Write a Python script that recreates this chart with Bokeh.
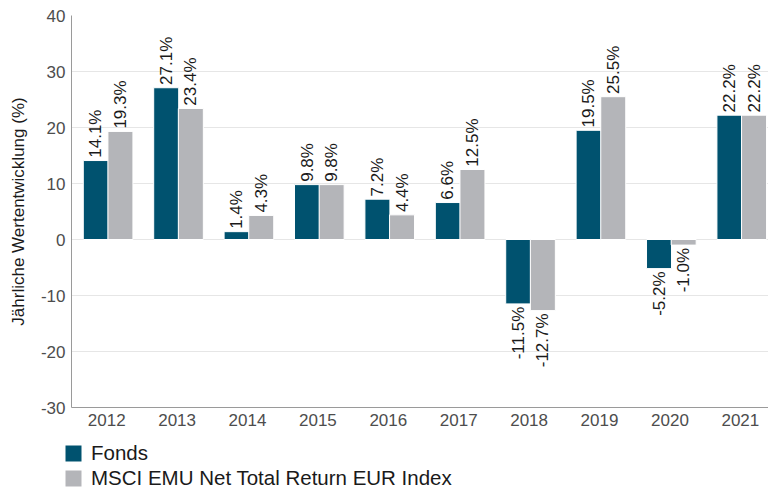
from bokeh.plotting import figure
from bokeh.models import ColumnDataSource, Range1d, FixedTicker, Legend, LegendItem
from bokeh.layouts import column
from bokeh.transform import dodge
from bokeh.embed import file_html
from bokeh.resources import INLINE
import math

years = ["2012", "2013", "2014", "2015", "2016", "2017", "2018", "2019", "2020", "2021"]
fonds = [14.1, 27.1, 1.4, 9.8, 7.2, 6.6, -11.5, 19.5, -5.2, 22.2]
index = [19.3, 23.4, 4.3, 9.8, 4.4, 12.5, -12.7, 25.5, -1.0, 22.2]
y_ticks = [-30, -20, -10, 0, 10, 20, 30, 40]
series_names = ["Fonds", "MSCI EMU Net Total Return EUR Index"]

FONT = "Liberation Sans"
C_FONDS = "#00526F"
C_INDEX = "#B4B5B9"

xs = list(range(len(years)))

def label_pos(vals):
    return [v + 0.5 if v >= 0 else v - 0.5 for v in vals]

def label_align(vals):
    return ["left" if v >= 0 else "right" for v in vals]

src = ColumnDataSource(dict(
    x=xs,
    fonds=fonds,
    index=index,
    fonds_lab=[f"{v:.1f}%" for v in fonds],
    index_lab=[f"{v:.1f}%" for v in index],
    fonds_ly=label_pos(fonds),
    index_ly=label_pos(index),
    fonds_al=label_align(fonds),
    index_al=label_align(index),
))

p = figure(width=768, height=434, output_backend="svg", toolbar_location=None,
           x_range=Range1d(-0.5, 9.40), y_range=Range1d(-30, 40),
           min_border_left=71, min_border_top=15, min_border_right=0, min_border_bottom=27)
p.outline_line_color = None
p.background_fill_color = "white"
p.border_fill_color = "white"

OFF_F = -0.155
OFF_I = 0.195
W = 0.355

r1 = p.vbar(x=dodge("x", OFF_F), top="fonds", bottom=0, width=W, source=src,
            fill_color=C_FONDS, line_color="white", line_width=1)
r2 = p.vbar(x=dodge("x", OFF_I), top="index", bottom=0, width=W, source=src,
            fill_color=C_INDEX, line_color="white", line_width=1)

p.text(x=dodge("x", OFF_F), y="fonds_ly", text="fonds_lab", source=src, angle=math.pi / 2,
       text_align="fonds_al", text_baseline="middle", text_font={"value": FONT},
       text_font_size="17px", text_color="#1a1a1a")
p.text(x=dodge("x", OFF_I), y="index_ly", text="index_lab", source=src, angle=math.pi / 2,
       text_align="index_al", text_baseline="middle", text_font={"value": FONT},
       text_font_size="17px", text_color="#1a1a1a")

# axes
p.xaxis.ticker = FixedTicker(ticks=xs)
p.xaxis.major_label_overrides = {i: y for i, y in enumerate(years)}
p.yaxis.ticker = FixedTicker(ticks=y_ticks)
p.yaxis.major_label_overrides = {t: str(t) for t in y_ticks}
for ax in (p.xaxis[0], p.yaxis[0]):
    ax.major_tick_line_color = None
    ax.minor_tick_line_color = None
    ax.major_tick_out = 0
    ax.major_tick_in = 0
    ax.axis_line_color = "#9a9a9a"
    ax.major_label_text_font = FONT
    ax.major_label_text_font_size = "17px"
    ax.major_label_text_color = "#4d4d4d"
p.xaxis.major_label_standoff = 6
p.yaxis.major_label_standoff = 6
p.yaxis.axis_label = "Jährliche Wertentwicklung (%)"
p.yaxis.axis_label_text_font = FONT
p.yaxis.axis_label_text_font_size = "17px"
p.yaxis.axis_label_text_font_style = "normal"
p.yaxis.axis_label_text_color = "#1a1a1a"
p.yaxis.axis_label_standoff = 10

p.xgrid.grid_line_color = None
p.ygrid.ticker = FixedTicker(ticks=y_ticks)
p.ygrid.grid_line_color = "#e6e6e6"
p.ygrid.grid_line_width = 1

# legend strip below the chart (proxy swatches lie outside the strip's visible range)
lg = figure(width=768, height=56, output_backend="svg", toolbar_location=None,
            x_range=Range1d(0, 1), y_range=Range1d(0, 1),
            min_border_left=0, min_border_right=0, min_border_top=0, min_border_bottom=0,
            x_axis_type=None, y_axis_type=None)
lg.frame_align = False
lg.outline_line_color = None
lg.grid.visible = False
d1 = lg.vbar(x=[-5], top=[-5], width=0.1, fill_color=C_FONDS, line_color=None)
d2 = lg.vbar(x=[-5], top=[-5], width=0.1, fill_color=C_INDEX, line_color=None)
legend = Legend(items=[LegendItem(label=series_names[0], renderers=[d1]),
                       LegendItem(label=series_names[1], renderers=[d2])],
                orientation="vertical", location=(63, 0), margin=0, padding=1,
                spacing=1, glyph_width=20, glyph_height=20, label_height=20,
                label_standoff=8, label_text_font=FONT, label_text_font_size="20.5px",
                label_text_color="#1a1a1a", border_line_color=None,
                background_fill_alpha=0)
lg.add_layout(legend, "center")

layout = column(p, lg, spacing=0)
open("out.html", "w").write(file_html(layout, INLINE))
